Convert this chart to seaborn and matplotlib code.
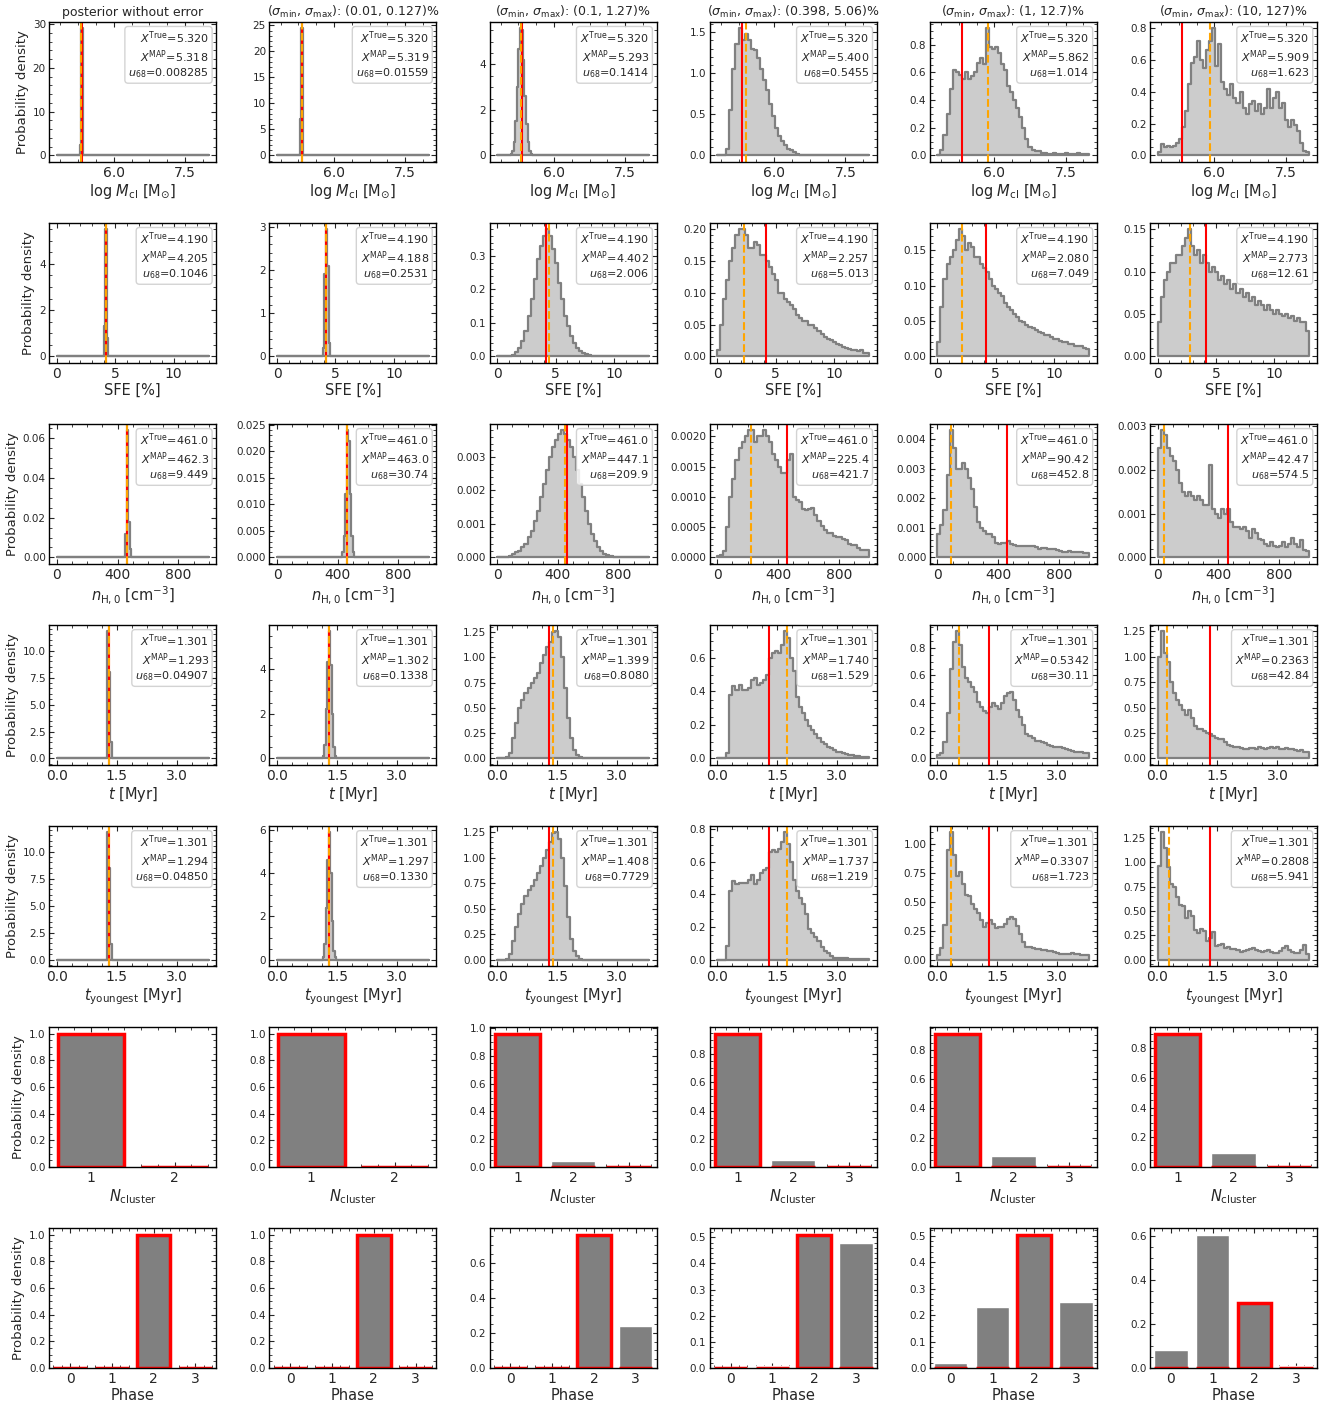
import numpy as np
import pandas as pd
import matplotlib
matplotlib.use("Agg")
import matplotlib.pyplot as plt
import seaborn as sns

# ---------------------------------------------------------------- data
column_titles = [
    "posterior without error",
    r"($\sigma_{\rm min}$, $\sigma_{\rm max}$): (0.01, 0.127)%",
    r"($\sigma_{\rm min}$, $\sigma_{\rm max}$): (0.1, 1.27)%",
    r"($\sigma_{\rm min}$, $\sigma_{\rm max}$): (0.398, 5.06)%",
    r"($\sigma_{\rm min}$, $\sigma_{\rm max}$): (1, 12.7)%",
    r"($\sigma_{\rm min}$, $\sigma_{\rm max}$): (10, 127)%",
]

# --- log M_cl
mass_label = r"log $M_{\rm cl}$ [M$_{\odot}$]"
mass_range = (4.8, 8.0)
mass_ticks = [6.0, 7.5]
mass_true = 5.320
mass_map = [5.318, 5.319, 5.293, 5.400, 5.862, 5.909]
mass_u68 = [0.008285, 0.01559, 0.1414, 0.5455, 1.014, 1.623]
mass_h0 = [0] * 15 + [2.3, 29.1] + [0] * 83
mass_h1 = [0] * 15 + [6.9, 24.5] + [0] * 83
mass_h2 = [0] * 9 + [0.05, 0.2, 0.6, 1.5, 3.0, 4.7, 5.6, 5.5, 4.2, 2.6, 1.4, 0.6, 0.2, 0.05] + [0] * 77
mass_h3 = [0, 0, 0.01, 0.08, 0.55, 1.05, 1.35, 1.55, 1.40, 1.48, 1.40, 1.30, 1.28, 1.18,
           1.05, 0.92, 0.80, 0.62, 0.48, 0.33, 0.24, 0.17, 0.12, 0.08, 0.06, 0.04, 0.02,
           0.01] + [0] * 22
mass_h4 = [0.0, 0.04, 0.15, 0.30, 0.48, 0.62, 0.60, 0.58, 0.55, 0.60, 0.55, 0.57, 0.60,
           0.67, 0.70, 0.66, 0.92, 0.78, 0.77, 0.78, 0.74, 0.66, 0.62, 0.50, 0.46, 0.40,
           0.34, 0.28, 0.20, 0.12, 0.06, 0.04, 0.03, 0.03, 0.02, 0.02, 0.01, 0.01, 0.02,
           0.01, 0.01, 0.01, 0.02, 0.01, 0.01, 0.01, 0.02, 0.01, 0.01, 0.01]
mass_h5 = [0.02, 0.07, 0.05, 0.06, 0.05, 0.06, 0.08, 0.10, 0.18, 0.28, 0.45, 0.58, 0.62,
           0.72, 0.60, 0.55, 0.66, 0.72, 0.80, 0.56, 0.70, 0.46, 0.42, 0.38, 0.45, 0.36,
           0.33, 0.40, 0.30, 0.26, 0.32, 0.34, 0.28, 0.32, 0.26, 0.30, 0.42, 0.30, 0.36,
           0.40, 0.30, 0.33, 0.22, 0.18, 0.22, 0.19, 0.15, 0.08, 0.03, 0.02]

# --- star formation efficiency
sfe_label = "SFE [%]"
sfe_range = (0.0, 13.0)
sfe_ticks = [0, 5, 10]
sfe_true = 4.190
sfe_map = [4.205, 4.188, 4.402, 2.257, 2.080, 2.773]
sfe_u68 = [0.1046, 0.2531, 2.006, 5.013, 7.049, 12.61]
sfe_h0 = [0] * 31 + [1.3, 5.5, 0.8] + [0] * 66
sfe_h1 = [0] * 30 + [0.2, 1.9, 2.95, 2.1, 0.3] + [0] * 65
sfe_h2 = [0, 0, 0, 0, 0.002, 0.005, 0.012, 0.025, 0.045, 0.075, 0.12, 0.17, 0.23, 0.29,
          0.33, 0.36, 0.38, 0.36, 0.32, 0.28, 0.22, 0.17, 0.12, 0.09, 0.06, 0.04, 0.025,
          0.015, 0.01, 0.006, 0.003, 0.001] + [0] * 18
sfe_h3 = [0.01, 0.05, 0.09, 0.12, 0.15, 0.17, 0.19, 0.20, 0.20, 0.19, 0.17, 0.17, 0.18,
          0.175, 0.16, 0.16, 0.15, 0.14, 0.13, 0.12, 0.10, 0.10, 0.09, 0.085, 0.08, 0.075,
          0.065, 0.06, 0.055, 0.055, 0.05, 0.05, 0.045, 0.04, 0.035, 0.03, 0.028, 0.025,
          0.022, 0.02, 0.018, 0.015, 0.013, 0.012, 0.01, 0.01, 0.008, 0.01, 0.006, 0.005]
sfe_h4 = [0.02, 0.07, 0.11, 0.13, 0.14, 0.15, 0.165, 0.18, 0.17, 0.15, 0.16, 0.155, 0.14,
          0.14, 0.13, 0.125, 0.12, 0.11, 0.10, 0.095, 0.09, 0.085, 0.075, 0.07, 0.065,
          0.06, 0.055, 0.05, 0.048, 0.045, 0.042, 0.04, 0.038, 0.035, 0.033, 0.03, 0.03,
          0.028, 0.025, 0.025, 0.022, 0.02, 0.02, 0.018, 0.018, 0.015, 0.015, 0.014,
          0.012, 0.01]
sfe_h5 = [0.04, 0.07, 0.09, 0.10, 0.11, 0.11, 0.12, 0.12, 0.13, 0.14, 0.15, 0.13, 0.12,
          0.125, 0.11, 0.12, 0.11, 0.10, 0.105, 0.10, 0.09, 0.095, 0.085, 0.09, 0.08,
          0.085, 0.075, 0.08, 0.07, 0.075, 0.065, 0.07, 0.06, 0.065, 0.06, 0.055, 0.06,
          0.055, 0.05, 0.055, 0.05, 0.048, 0.05, 0.045, 0.048, 0.042, 0.045, 0.04, 0.04,
          0.03]

# --- initial hydrogen density
dens_label = r"$n_{\rm H,0}$ [cm$^{-3}$]"
dens_range = (0.0, 1000.0)
dens_ticks = [0, 400, 800]
dens_true = 461.0
dens_map = [462.3, 463.0, 447.1, 225.4, 90.42, 42.47]
dens_u68 = [9.449, 30.74, 209.9, 421.7, 452.8, 574.5]
dens_h0 = [0] * 45 + [0.012, 0.064, 0.018, 0.004] + [0] * 51
dens_h1 = [0] * 43 + [0.001, 0.004, 0.012, 0.024, 0.022, 0.012, 0.004, 0.001] + [0] * 49
dens_h2 = [0, 0, 0, 0.00002, 0.00005, 0.0001, 0.00015, 0.0002, 0.0003, 0.0004, 0.0006,
           0.0008, 0.0011, 0.0014, 0.0018, 0.0022, 0.0026, 0.0030, 0.0033, 0.0035, 0.0037,
           0.0038, 0.0037, 0.0035, 0.0033, 0.0030, 0.0026, 0.0022, 0.0018, 0.0014, 0.0010,
           0.0007, 0.0005, 0.0003, 0.0002, 0.0001, 0.00007, 0.00004, 0.00002,
           0.00001] + [0] * 10
dens_h3 = [0.00002, 0.00004, 0.0001, 0.0005, 0.0010, 0.0013, 0.0016, 0.0018, 0.0019,
           0.0020, 0.0021, 0.0021, 0.0019, 0.0020, 0.0020, 0.0021, 0.0020, 0.0019, 0.0017,
           0.0016, 0.0015, 0.0014, 0.0014, 0.0016, 0.0017, 0.0010, 0.00095, 0.00092,
           0.0008, 0.00078, 0.0008, 0.00082, 0.0007, 0.0006, 0.00052, 0.00045, 0.0004,
           0.0004, 0.00036, 0.00033, 0.00033, 0.0003, 0.00028, 0.00022, 0.0002, 0.0002,
           0.00015, 0.00013, 0.00012, 0.00012]
dens_h4 = [0.0008, 0.0011, 0.0016, 0.0028, 0.0043, 0.0037, 0.0030, 0.0030, 0.0032,
           0.0030, 0.0027, 0.0023, 0.0017, 0.0012, 0.0010, 0.0009, 0.0008, 0.0008, 0.0007,
           0.0005, 0.00045, 0.00048, 0.0005, 0.00055, 0.00045, 0.00042, 0.0004, 0.0004,
           0.00038, 0.0004, 0.00037, 0.00038, 0.00034, 0.0003, 0.00032, 0.00033, 0.0003,
           0.0003, 0.00028, 0.00025, 0.00022, 0.0002, 0.0002, 0.00022, 0.0002, 0.00018,
           0.00019, 0.00017, 0.00016, 0.00015]
dens_h5 = [0.0025, 0.0029, 0.0028, 0.0025, 0.0023, 0.0022, 0.0020, 0.0017, 0.0015,
           0.0014, 0.0015, 0.0014, 0.0013, 0.0014, 0.0013, 0.0012, 0.0012, 0.0021, 0.0011,
           0.0010, 0.0009, 0.0011, 0.0010, 0.0011, 0.0008, 0.0007, 0.0007, 0.00065,
           0.0007, 0.0006, 0.00045, 0.00065, 0.00055, 0.00043, 0.0004, 0.0003, 0.00027,
           0.00035, 0.00027, 0.00023, 0.00025, 0.00035, 0.00023, 0.0003, 0.00045, 0.0003,
           0.00023, 0.0004, 0.00018, 0.00015]

# --- age
age_label = r"$t$ [Myr]"
age_range = (0.0, 3.8)
age_ticks = [0.0, 1.5, 3.0]
age_true = 1.301
age_map = [1.293, 1.302, 1.399, 1.740, 0.5342, 0.2363]
age_u68 = [0.04907, 0.1338, 0.8080, 1.529, 30.11, 42.84]
age_h0 = [0] * 33 + [11.8, 8.0, 1.5] + [0] * 64
age_h1 = [0] * 30 + [0.1, 0.6, 2.2, 4.3, 5.7, 4.2, 2.0, 0.5, 0.1] + [0] * 61
age_h2 = [0, 0, 0, 0.01, 0.05, 0.2, 0.35, 0.5, 0.58, 0.65, 0.7, 0.75, 0.8, 0.85, 0.95,
          1.02, 1.1, 1.15, 1.25, 1.26, 1.2, 1.0, 0.7, 0.4, 0.2, 0.08, 0.03, 0.01] + [0] * 22
age_h3 = [0, 0, 0, 0.03, 0.38, 0.43, 0.41, 0.44, 0.41, 0.41, 0.42, 0.47, 0.48, 0.44, 0.45,
          0.47, 0.50, 0.60, 0.63, 0.64, 0.63, 0.68, 0.76, 0.72, 0.60, 0.52, 0.37, 0.31,
          0.27, 0.23, 0.195, 0.17, 0.145, 0.125, 0.10, 0.085, 0.07, 0.06, 0.05, 0.04,
          0.036, 0.03, 0.027, 0.022, 0.018, 0.015, 0.012, 0.011, 0.009, 0.008]
age_h4 = [0.025, 0.04, 0.12, 0.33, 0.65, 0.84, 0.92, 0.82, 0.66, 0.58, 0.55, 0.52, 0.48,
          0.41, 0.37, 0.34, 0.33, 0.37, 0.40, 0.38, 0.36, 0.40, 0.45, 0.47, 0.48, 0.42,
          0.35, 0.30, 0.24, 0.18, 0.16, 0.145, 0.13, 0.125, 0.12, 0.11, 0.10, 0.09, 0.08,
          0.08, 0.08, 0.075, 0.065, 0.06, 0.055, 0.05, 0.045, 0.045, 0.042, 0.04]
age_h5 = [1.0, 1.25, 1.04, 0.95, 0.75, 0.64, 0.57, 0.53, 0.48, 0.43, 0.48, 0.40, 0.32,
          0.29, 0.29, 0.27, 0.25, 0.24, 0.22, 0.20, 0.19, 0.19, 0.16, 0.13, 0.12, 0.11,
          0.11, 0.10, 0.09, 0.09, 0.10, 0.10, 0.09, 0.11, 0.10, 0.09, 0.10, 0.11, 0.10,
          0.11, 0.09, 0.09, 0.10, 0.09, 0.09, 0.08, 0.075, 0.08, 0.065, 0.06]

# --- age of the youngest cluster
young_label = r"$t_{\rm youngest}$ [Myr]"
young_range = (0.0, 3.8)
young_ticks = [0.0, 1.5, 3.0]
young_true = 1.301
young_map = [1.294, 1.297, 1.408, 1.737, 0.3307, 0.2808]
young_u68 = [0.04850, 0.1330, 0.7729, 1.219, 1.723, 5.941]
young_h0 = [0] * 33 + [11.8, 8.5, 1.4] + [0] * 64
young_h1 = [0] * 30 + [0.1, 0.7, 2.4, 4.6, 5.9, 4.0, 1.8, 0.4, 0.1] + [0] * 61
young_h2 = [0, 0, 0, 0.005, 0.05, 0.18, 0.32, 0.45, 0.55, 0.62, 0.68, 0.72, 0.78, 0.85,
            0.92, 1.0, 1.08, 1.15, 1.24, 1.25, 1.18, 1.0, 0.72, 0.42, 0.2, 0.08, 0.03,
            0.01] + [0] * 22
young_h3 = [0, 0, 0, 0.08, 0.42, 0.48, 0.46, 0.47, 0.47, 0.47, 0.49, 0.52, 0.46, 0.49,
            0.53, 0.55, 0.56, 0.66, 0.67, 0.66, 0.68, 0.72, 0.78, 0.71, 0.60, 0.49, 0.42,
            0.38, 0.34, 0.28, 0.19, 0.165, 0.14, 0.115, 0.075, 0.05, 0.04, 0.02, 0.012,
            0.01, 0.01, 0.01, 0.008, 0.006, 0.005, 0.004, 0.004, 0.004, 0.003, 0.003]
young_h4 = [0.04, 0.10, 0.30, 0.95, 1.10, 0.90, 0.72, 0.76, 0.65, 0.56, 0.55, 0.48, 0.44,
            0.40, 0.34, 0.28, 0.32, 0.34, 0.31, 0.27, 0.28, 0.28, 0.31, 0.35, 0.37, 0.35,
            0.29, 0.22, 0.15, 0.11, 0.105, 0.10, 0.095, 0.09, 0.085, 0.08, 0.075, 0.07,
            0.065, 0.057, 0.05, 0.045, 0.045, 0.05, 0.055, 0.05, 0.045, 0.043, 0.04, 0.035]
young_h5 = [0.96, 1.31, 1.15, 0.95, 0.78, 0.75, 0.64, 0.56, 0.55, 0.43, 0.50, 0.45, 0.30,
            0.27, 0.31, 0.29, 0.19, 0.22, 0.28, 0.14, 0.15, 0.16, 0.12, 0.13, 0.11, 0.11,
            0.10, 0.08, 0.09, 0.10, 0.11, 0.12, 0.10, 0.09, 0.08, 0.09, 0.10, 0.08, 0.07,
            0.07, 0.09, 0.12, 0.14, 0.10, 0.08, 0.07, 0.07, 0.10, 0.15, 0.06]

# --- number of clusters
ncl_label = r"$N_{\rm cluster}$"
ncl_true = "1"
ncl_cats = [["1", "2"], ["1", "2"], ["1", "2", "3"], ["1", "2", "3"],
            ["1", "2", "3"], ["1", "2", "3"]]
ncl_probs = [[1.0, 0.0], [1.0, 0.0], [0.96, 0.04, 0.0], [0.945, 0.05, 0.0],
             [0.912, 0.078, 0.004], [0.90, 0.095, 0.005]]

# --- evolutionary phase
phase_label = "Phase"
phase_true = "2"
phase_cats = ["0", "1", "2", "3"]
phase_probs = [[0.0, 0.0, 1.0, 0.0], [0.0, 0.0, 1.0, 0.0], [0.0, 0.0, 0.76, 0.24],
               [0.003, 0.007, 0.51, 0.48], [0.019, 0.229, 0.504, 0.248],
               [0.083, 0.605, 0.297, 0.01]]

hist_rows = [
    (mass_label, mass_range, mass_ticks, mass_true, mass_map, mass_u68,
     [mass_h0, mass_h1, mass_h2, mass_h3, mass_h4, mass_h5]),
    (sfe_label, sfe_range, sfe_ticks, sfe_true, sfe_map, sfe_u68,
     [sfe_h0, sfe_h1, sfe_h2, sfe_h3, sfe_h4, sfe_h5]),
    (dens_label, dens_range, dens_ticks, dens_true, dens_map, dens_u68,
     [dens_h0, dens_h1, dens_h2, dens_h3, dens_h4, dens_h5]),
    (age_label, age_range, age_ticks, age_true, age_map, age_u68,
     [age_h0, age_h1, age_h2, age_h3, age_h4, age_h5]),
    (young_label, young_range, young_ticks, young_true, young_map, young_u68,
     [young_h0, young_h1, young_h2, young_h3, young_h4, young_h5]),
]

# ---------------------------------------------------------------- style
sns.set_style("ticks")
plt.rcParams.update({
    "font.family": ["DejaVu Sans"],
    "mathtext.fontset": "dejavusans",
    "xtick.direction": "in",
    "ytick.direction": "in",
    "xtick.top": True,
    "ytick.right": True,
    "xtick.minor.visible": True,
    "ytick.minor.visible": True,
    "xtick.major.size": 3.5,
    "ytick.major.size": 3.5,
    "xtick.minor.size": 2.0,
    "ytick.minor.size": 2.0,
    "xtick.major.width": 0.8,
    "ytick.major.width": 0.8,
    "axes.linewidth": 1.0,
    "axes.edgecolor": "black",
})


def fmt(v):
    return f"{v:#.4g}"


def draw_hist(ax, heights, lo, hi, truth, best, unc, xlabel, ticks):
    heights = np.asarray(heights, dtype=float)
    edges = np.linspace(lo, hi, len(heights) + 1)
    frame = pd.DataFrame({"x": 0.5 * (edges[:-1] + edges[1:]), "w": heights})
    sns.histplot(data=frame, x="x", weights="w", bins=len(heights), binrange=(lo, hi),
                 element="step", fill=True, color="gray", alpha=0.4, linewidth=1.6,
                 ax=ax)
    ax.axvline(truth, color="red", lw=1.5)
    ax.axvline(best, color="orange", ls="--", lw=1.5)
    span = hi - lo
    top = heights.max()
    ax.set_xlim(lo - 0.05 * span, hi + 0.05 * span)
    ax.set_ylim(-0.05 * top, 1.05 * top)
    ax.set_xticks(ticks)
    ax.set_xlabel(xlabel, fontsize=10.5, labelpad=1.5)
    text = (r"$X^{\rm True}$=" + fmt(truth) + "\n"
            + r"$X^{\rm MAP}$=" + fmt(best) + "\n"
            + r"$u_{68}$=" + fmt(unc))
    ax.text(0.955, 0.945, text, transform=ax.transAxes, ha="right", va="top",
            multialignment="right", fontsize=8, linespacing=1.15,
            bbox=dict(boxstyle="round,pad=0.3", fc="white", ec="0.8", alpha=0.85))


def draw_bars(ax, cats, probs, truth, xlabel):
    frame = pd.DataFrame({"cat": cats, "prob": probs})
    sns.barplot(data=frame, x="cat", y="prob", order=cats, color="gray",
                saturation=1, width=0.8, ax=ax)
    frame["outline"] = [p if c == truth else 0.0 for c, p in zip(cats, probs)]
    sns.barplot(data=frame, x="cat", y="outline", order=cats, color="red",
                fill=False, linewidth=2.5, width=0.8, ax=ax)
    ax.set_ylim(0, 1.05 * max(probs))
    ax.set_xlabel(xlabel, fontsize=10.5, labelpad=1.5)


fig, axes = plt.subplots(7, 6, figsize=(13.32, 14.09), dpi=100)
fig.subplots_adjust(left=0.037, right=0.9887, top=0.9846, bottom=0.0291,
                    wspace=0.318, hspace=0.436)

for r, (xlabel, (lo, hi), ticks, truth, maps, u68s, hists) in enumerate(hist_rows):
    for c in range(6):
        draw_hist(axes[r, c], hists[c], lo, hi, truth, maps[c], u68s[c], xlabel, ticks)

for c in range(6):
    draw_bars(axes[5, c], ncl_cats[c], ncl_probs[c], ncl_true, ncl_label)
    draw_bars(axes[6, c], phase_cats, phase_probs[c], phase_true, phase_label)

for r in range(7):
    for c in range(6):
        ax = axes[r, c]
        ax.tick_params(axis="x", which="major", labelsize=10, pad=3)
        ax.tick_params(axis="y", which="major", labelsize=7.5, pad=2.5)
        ax.set_ylabel("Probability density" if c == 0 else "", fontsize=9.5, labelpad=3)
        for side in ax.spines.values():
            side.set_visible(True)
            side.set_color("black")

for c in range(6):
    axes[0, c].set_title(column_titles[c], fontsize=9, pad=4)

fig.savefig("out.png", dpi=100)
